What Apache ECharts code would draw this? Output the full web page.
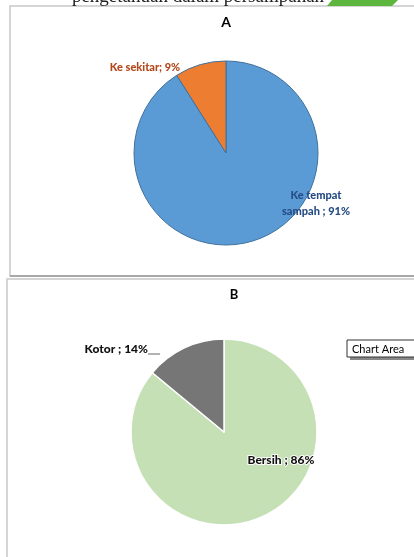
<!DOCTYPE html>
<html><head><meta charset="utf-8">
<script src="https://cdn.jsdelivr.net/npm/echarts@6/dist/echarts.min.js"></script>
<style>html,body{margin:0;padding:0;background:#fff}#c{width:414px;height:557px}</style>
</head><body><div id="c"></div>
<script>
const catsA = ['Ke tempat sampah', 'Ke sekitar'];
const valsA = [91, 9];
const labelsA = ['Ke tempat\nsampah ; 91%', 'Ke sekitar; 9%'];
const catsB = ['Bersih', 'Kotor'];
const valsB = [86, 14];
const labelsB = ['Bersih ; 86%', 'Kotor ; 14%'];

const chart = echarts.init(document.getElementById('c'), null, {renderer: 'canvas'});
const font = 'Lato, "Open Sans", sans-serif';
const posA = [{x: 316, y: 203, align: 'center'}, {x: 145, y: 67, align: 'center'}];
const posB = [{x: 281, y: 460, align: 'center'}, {x: 148, y: 349, align: 'right'}];

chart.setOption({
  animation: false,
  graphic: [
    {type: 'text', x: 198, y: -12, style: {text: 'pengetahuan dalam persampahan', font: '19px "Liberation Serif", serif', fill: '#222', align: 'center'}},
    {type: 'polygon', shape: {points: [[332, 0], [398, 0], [392, 6], [327, 6]]}, style: {fill: '#5DB73E'}},
    {type: 'rect', shape: {x: 10, y: 6, width: 420, height: 270}, style: {fill: '#fff', stroke: '#C8C8C8', lineWidth: 1.5}, z: -10},
    {type: 'line', shape: {x1: 10, y1: 276, x2: 414, y2: 276}, style: {stroke: '#A8A8A8', lineWidth: 2}, z: -9},
    {type: 'rect', shape: {x: 7, y: 279, width: 420, height: 300}, style: {fill: '#fff', stroke: '#C8C8C8', lineWidth: 1.5}, z: -10},
    {type: 'text', x: 226, y: 22, style: {text: 'A', font: 'bold 14px ' + font, fill: '#000', align: 'center', verticalAlign: 'middle'}},
    {type: 'text', x: 234, y: 295, style: {text: 'B', font: 'bold 13px ' + font, fill: '#000', align: 'center', verticalAlign: 'middle'}},
    {type: 'line', shape: {x1: 148, y1: 354, x2: 160, y2: 354}, style: {stroke: '#666', lineWidth: 1}},
    {type: 'rect', shape: {x: 350, y: 343, width: 70, height: 17}, style: {fill: '#888'}, z: 20},
    {type: 'rect', shape: {x: 347, y: 340, width: 70, height: 17}, style: {fill: '#fff', stroke: '#333', lineWidth: 1}, z: 21},
    {type: 'text', x: 352, y: 349, style: {text: 'Chart Area', font: '11px ' + font, fill: '#000', verticalAlign: 'middle'}, z: 22}
  ],
  series: [
    {
      type: 'pie', center: [226, 153], radius: 92, startAngle: 90, clockwise: true,
      color: ['#5B9BD5', '#ED7D31'],
      itemStyle: {borderColor: '#41719C', borderWidth: 1},
      label: {
        show: true, formatter: p => labelsA[p.dataIndex], fontFamily: font, fontWeight: 900, fontSize: 11, lineHeight: 16
      },
      labelLine: {show: false},
      labelLayout: p => Object.assign({verticalAlign: 'middle'}, posA[p.dataIndex]),
      data: catsA.map((c, i) => ({name: c, value: valsA[i], label: {color: i === 0 ? '#264C86' : '#B4471A'}}))
    },
    {
      type: 'pie', center: [224, 432], radius: 93, startAngle: 90, clockwise: true,
      color: ['#C5E0B4', '#767676'],
      itemStyle: {borderColor: '#fff', borderWidth: 1.5},
      label: {
        show: true, formatter: p => labelsB[p.dataIndex], fontFamily: font, fontWeight: 900, fontSize: 12,
        color: '#111', textBorderColor: '#fff', textBorderWidth: 2
      },
      labelLine: {show: false},
      labelLayout: p => Object.assign({verticalAlign: 'middle'}, posB[p.dataIndex]),
      data: catsB.map((c, i) => ({name: c, value: valsB[i]}))
    }
  ]
});
</script></body></html>
